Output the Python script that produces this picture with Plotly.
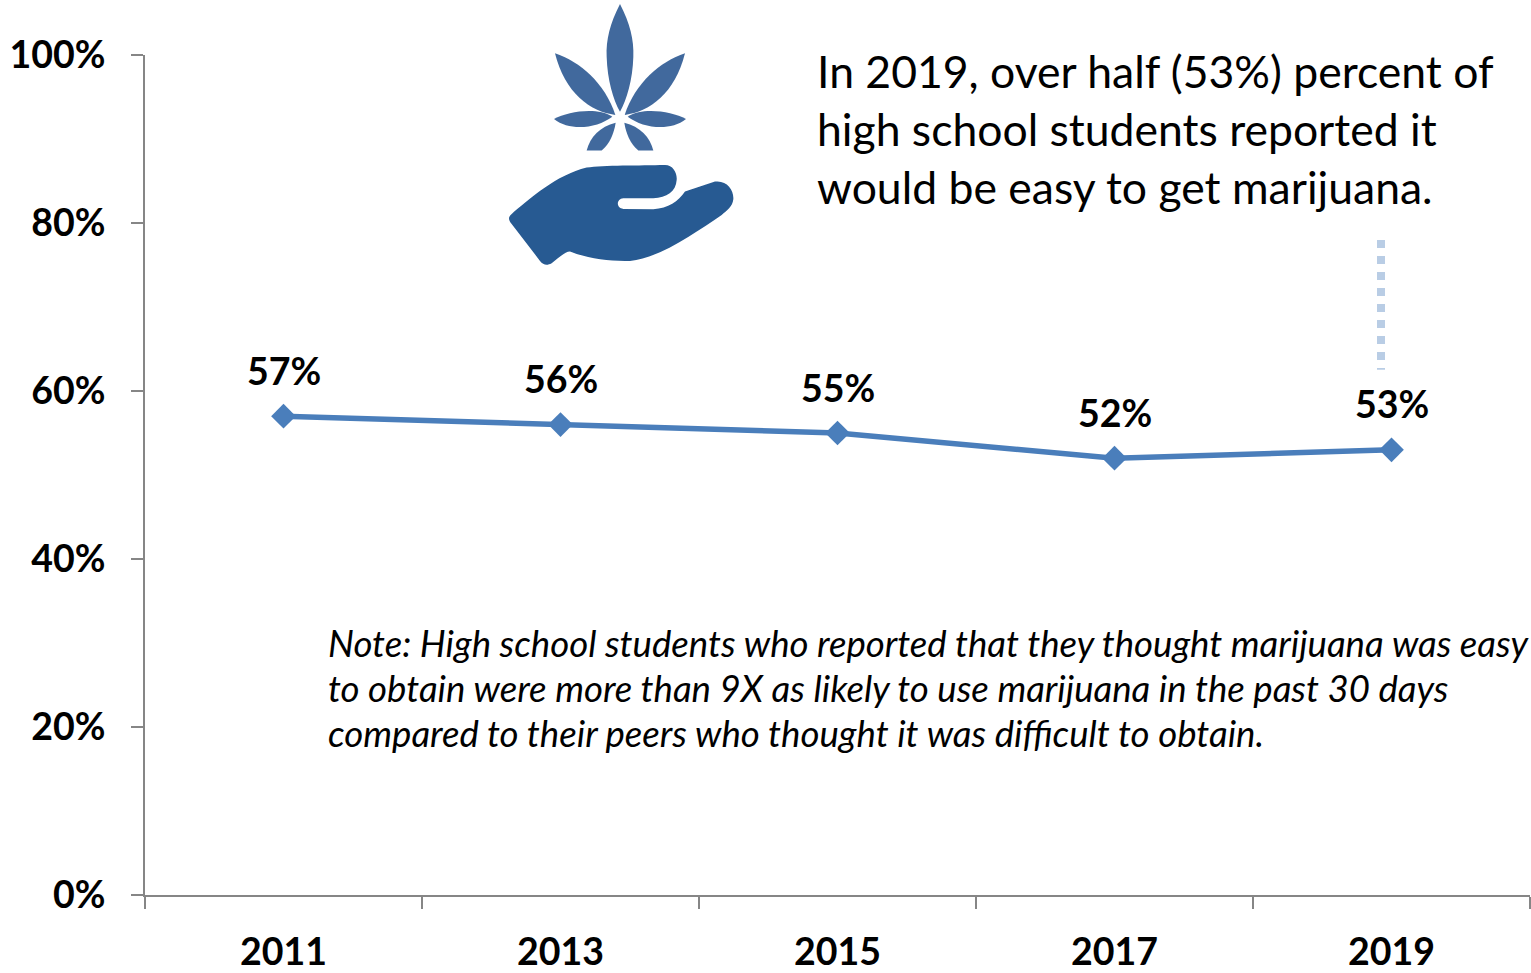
import plotly.graph_objects as go

WIDTH, HEIGHT = 1531, 973
LEFT, RIGHT, TOP, BOTTOM = 145, 1530, 55, 895.5

years = ["2011", "2013", "2015", "2017", "2019"]
easy_to_get = [57, 56, 55, 52, 53]
y_ticks = [0, 20, 40, 60, 80, 100]

callout_lines = [
    "In 2019, over half (53%) percent of",
    "high school students reported it",
    "would be easy to get marijuana.",
]
note_lines = [
    "Note: High school students who reported that they thought marijuana was easy",
    "to obtain were more than 9X as likely to use marijuana in the past 30 days",
    "compared to their peers who thought it was difficult to obtain.",
]

FONT = "Lato"
LINE_BLUE = "#4A7EBB"
AXIS_GREY = "#868686"


def px(x):
    return (x - LEFT) / (RIGHT - LEFT)


def py(y):
    return (BOTTOM - y) / (BOTTOM - TOP)


def icon_path(commands):
    """Build an SVG path in paper units; icon points are 3x local units from (490, 0)."""
    parts = []
    for cmd, pts in commands:
        coords = " ".join(f"{px(490 + a / 3):.5f},{py(b / 3):.5f}" for a, b in pts)
        parts.append(f"{cmd}{coords}")
    return " ".join(parts) + " Z"


def mirror(commands, axis=390):
    return [(c, [(2 * axis - a, b) for a, b in pts]) for c, pts in commands]


centre_leaf = [
    ("M", [(390, 12)]),
    ("C", [(360, 70), (348, 120), (350, 170)]),
    ("C", [(352, 240), (370, 300), (390, 335)]),
    ("C", [(410, 300), (428, 240), (430, 170)]),
    ("C", [(432, 120), (420, 70), (390, 12)]),
]
upper_leaf = [
    ("M", [(195, 160)]),
    ("C", [(270, 185), (345, 250), (376, 345)]),
    ("C", [(300, 335), (225, 280), (195, 160)]),
]
middle_leaf = [
    ("M", [(192, 357)]),
    ("C", [(235, 335), (320, 320), (367, 350)]),
    ("C", [(320, 385), (240, 395), (192, 357)]),
]
lower_leaf = [
    ("M", [(377, 368)]),
    ("C", [(330, 380), (300, 410), (290, 452)]),
    ("L", [(335, 452)]),
    ("C", [(360, 430), (372, 400), (377, 368)]),
]
hand = [
    ("M", [(62, 645)]),
    ("C", [(120, 595), (200, 525), (290, 503)]),
    ("C", [(340, 495), (450, 497), (525, 495)]),
    ("C", [(550, 495), (562, 520), (560, 540)]),
    ("C", [(558, 575), (530, 592), (490, 595)]),
    ("L", [(400, 595)]),
    ("C", [(378, 597), (378, 625), (400, 627)]),
    ("L", [(490, 628)]),
    ("C", [(535, 625), (565, 605), (585, 575)]),
    ("L", [(675, 545)]),
    ("C", [(710, 540), (732, 570), (730, 598)]),
    ("C", [(728, 620), (710, 632), (695, 645)]),
    ("C", [(620, 695), (510, 775), (420, 783)]),
    ("C", [(360, 785), (290, 775), (240, 755)]),
    ("C", [(225, 755), (205, 775), (185, 790)]),
    ("C", [(170, 798), (160, 795), (150, 783)]),
    ("L", [(65, 672)]),
    ("C", [(55, 660), (55, 652), (62, 645)]),
]

shapes = []
for leaf in (centre_leaf, upper_leaf, mirror(upper_leaf), middle_leaf,
             mirror(middle_leaf), lower_leaf, mirror(lower_leaf)):
    shapes.append(dict(type="path", xref="paper", yref="paper", path=icon_path(leaf),
                       fillcolor="#41699D", line_width=0, layer="above"))
shapes.append(dict(type="path", xref="paper", yref="paper", path=icon_path(hand),
                   fillcolor="#275A92", line_width=0, layer="above"))

# Dotted connector from the callout down to the 2019 point
shapes.append(dict(type="line", xref="paper", yref="paper",
                   x0=px(1381), x1=px(1381), y0=py(240), y1=py(370),
                   line=dict(color="#B9CDE5", width=8, dash="8px,8px")))

annotations = []
# Numeric-looking category names are addressed by their index on the axis
for i, value in enumerate(easy_to_get):
    annotations.append(dict(x=i, y=value, xref="x", yref="y", text=f"<b>{value}%</b>",
                            showarrow=False, yshift=46,
                            font=dict(family=FONT, size=37.5, color="#000000")))
for i, line in enumerate(callout_lines):
    annotations.append(dict(x=px(815), y=py(70.5 + 58 * i), xref="paper", yref="paper", text=line,
                            showarrow=False, xanchor="left", yanchor="middle",
                            font=dict(family=FONT, size=44.5, color="#000000")))
for i, line in enumerate(note_lines):
    annotations.append(dict(x=px(326), y=py(643 + 45 * i), xref="paper", yref="paper", text=line,
                            showarrow=False, xanchor="left", yanchor="middle",
                            font=dict(family=FONT, size=36.6, color="#000000", style="italic")))

fig = go.Figure(go.Scatter(
    x=years, y=easy_to_get, mode="lines+markers",
    line=dict(color=LINE_BLUE, width=5.5),
    marker=dict(symbol="diamond", size=19, color=LINE_BLUE),
    hoverinfo="x+y", cliponaxis=False,
))

fig.update_layout(
    width=WIDTH, height=HEIGHT, margin=dict(l=LEFT, r=WIDTH - RIGHT, t=TOP, b=HEIGHT - BOTTOM),
    paper_bgcolor="white", plot_bgcolor="white", showlegend=False,
    shapes=shapes, annotations=annotations,
    xaxis=dict(type="category", range=[-0.5, 4.5], tickson="boundaries", ticks="outside",
               ticklen=12, tickwidth=2, tickcolor=AXIS_GREY, showline=True, linecolor=AXIS_GREY,
               linewidth=2, showgrid=False, zeroline=False, ticklabelstandoff=23,
               tickfont=dict(family=FONT, size=37.5, color="#000000", weight="bold")),
    yaxis=dict(range=[0, 100], tickvals=y_ticks, ticktext=[f"{v}%" for v in y_ticks],
               ticks="outside", ticklen=12, tickwidth=2, tickcolor=AXIS_GREY, showline=True,
               linecolor=AXIS_GREY, linewidth=2, showgrid=False, zeroline=False,
               ticklabelstandoff=18,
               tickfont=dict(family=FONT, size=37.5, color="#000000", weight="bold")),
)

fig.write_html("out.html")
